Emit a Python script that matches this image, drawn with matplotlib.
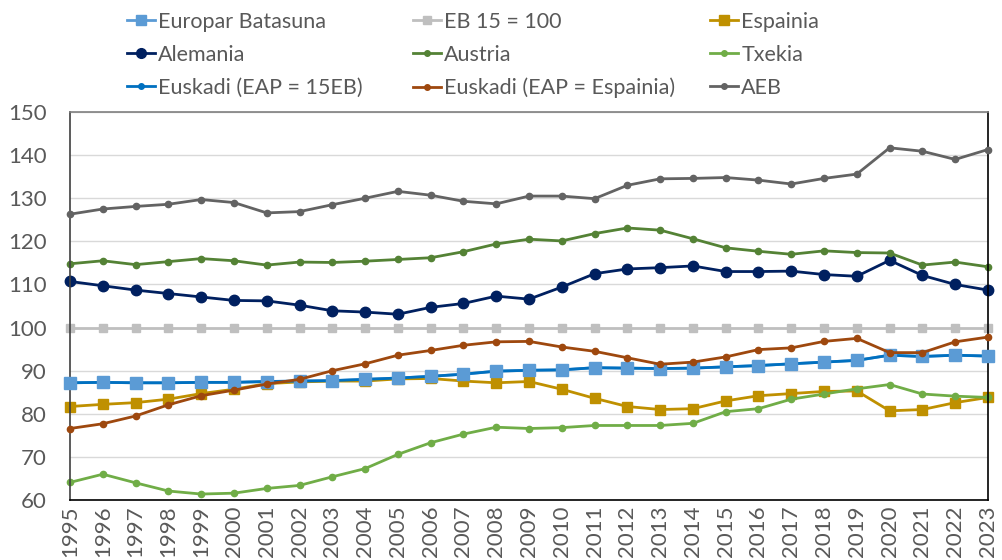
import matplotlib
matplotlib.use("Agg")
import matplotlib.pyplot as plt
from matplotlib.lines import Line2D

years = list(range(1995, 2024))

europar = [87.2, 87.3, 87.2, 87.2, 87.3, 87.3, 87.5, 87.6, 87.7, 88.0, 88.3, 88.7, 89.2, 89.9, 90.1,
           90.2, 90.7, 90.6, 90.5, 90.6, 90.9, 91.2, 91.6, 92.0, 92.4, 93.6, 93.3, 93.6, 93.4]
eb15 = [100] * len(years)
espainia = [81.7, 82.2, 82.6, 83.4, 84.7, 85.7, 87.0, 87.4, 87.6, 87.6, 88.1, 88.2, 87.6, 87.2, 87.5,
            85.7, 83.6, 81.7, 81.0, 81.2, 83.0, 84.2, 84.7, 85.2, 85.3, 80.7, 81.0, 82.6, 83.8]
alemania = [110.7, 109.7, 108.7, 107.9, 107.1, 106.3, 106.2, 105.2, 103.9, 103.6, 103.1, 104.7, 105.6,
            107.3, 106.6, 109.4, 112.5, 113.6, 113.9, 114.3, 113.0, 113.0, 113.1, 112.3, 111.9, 115.6,
            112.1, 110.0, 108.7]
austria = [114.8, 115.5, 114.6, 115.3, 116.0, 115.5, 114.5, 115.2, 115.1, 115.4, 115.8, 116.2, 117.6,
           119.4, 120.5, 120.1, 121.8, 123.1, 122.6, 120.6, 118.5, 117.7, 117.0, 117.8, 117.4, 117.3,
           114.5, 115.2, 114.1]
txekia = [64.1, 66.0, 64.0, 62.1, 61.4, 61.6, 62.7, 63.4, 65.4, 67.3, 70.6, 73.3, 75.3, 76.9, 76.6,
          76.8, 77.3, 77.3, 77.3, 77.8, 80.5, 81.2, 83.4, 84.6, 85.8, 86.8, 84.6, 84.1, 83.8]
euskadi_15eb = europar
euskadi_esp = [76.6, 77.7, 79.5, 82.1, 84.2, 85.5, 86.9, 88.0, 90.0, 91.6, 93.6, 94.7, 95.9, 96.7, 96.8,
               95.5, 94.5, 93.0, 91.5, 92.0, 93.2, 94.9, 95.3, 96.8, 97.5, 94.2, 94.2, 96.7, 97.8]
aeb = [126.3, 127.5, 128.1, 128.6, 129.7, 129.0, 126.6, 126.9, 128.5, 130.0, 131.6, 130.7, 129.3, 128.7,
       130.5, 130.5, 129.9, 133.0, 134.5, 134.6, 134.8, 134.2, 133.3, 134.6, 135.6, 141.7, 140.9, 139.0,
       141.3]

plt.rcParams['font.family'] = ['Lato', 'DejaVu Sans']
txt = '#595959'

fig = plt.figure(figsize=(10.02, 5.6), dpi=100)
ax = fig.add_axes([0.0699, 0.107, 0.9161, 0.693])

lw = 2.0
kw = dict(clip_on=False, linewidth=lw)
# Europar Batasuna line under the Euskadi (EAP = 15EB) line, squares on top
ax.plot(years, europar, color='#5B9BD5', zorder=2.0, **kw)
ax.plot(years, eb15, color='#BFBFBF', marker='s', markersize=6, zorder=2.1, **kw)
ax.plot(years, espainia, color='#BF9000', marker='s', markersize=7.5, zorder=2.2, **kw)
ax.plot(years, alemania, color='#002060', marker='o', markersize=7.5, zorder=2.3, **kw)
ax.plot(years, austria, color='#548235', marker='o', markersize=4.5, zorder=2.4, **kw)
ax.plot(years, txekia, color='#70AD47', marker='o', markersize=4.5, zorder=2.5, **kw)
ax.plot(years, euskadi_15eb, color='#0070C0', marker='o', markersize=4, zorder=2.6, **kw)
ax.plot(years, europar, color='#5B9BD5', linestyle='none', marker='s', markersize=8.5,
        zorder=2.65, clip_on=False)
ax.plot(years, euskadi_esp, color='#9E480E', marker='o', markersize=4.5, zorder=2.7, **kw)
ax.plot(years, aeb, color='#636363', marker='o', markersize=4.5, zorder=2.8, **kw)

ax.set_xlim(1995, 2023)
ax.set_ylim(60, 150)
ax.set_yticks(range(60, 151, 10))
ax.set_xticks(years)
ax.set_xticklabels([str(y) for y in years], rotation=90)
ax.tick_params(axis='both', length=0, labelsize=16, colors=txt)
ax.tick_params(axis='y', pad=17)
ax.tick_params(axis='x', pad=4)
ax.grid(axis='y', color='#D9D9D9', linewidth=1)
ax.set_axisbelow(True)
ax.spines['top'].set_color('#7F7F7F')
ax.spines['left'].set_color('#404040')
ax.spines['bottom'].set_color('black')
ax.spines['right'].set_color('black')
for s in ax.spines.values():
    s.set_linewidth(1.2)

def h(c, m, ms):
    return Line2D([], [], color=c, marker=m, markersize=ms, linewidth=lw)

cols = [
    ([h('#5B9BD5', 's', 7), h('#002060', 'o', 7), h('#0070C0', 'o', 4)],
     ['Europar Batasuna', 'Alemania', 'Euskadi (EAP = 15EB)'], 0.1267),
    ([h('#BFBFBF', 's', 6), h('#548235', 'o', 4), h('#9E480E', 'o', 4)],
     ['EB 15 = 100', 'Austria', 'Euskadi (EAP = Espainia)'], 0.412),
    ([h('#BF9000', 's', 6.5), h('#70AD47', 'o', 4), h('#636363', 'o', 4)],
     ['Espainia', 'Txekia', 'AEB'], 0.7086),
]
for hs, ls, x in cols:
    leg = fig.legend(hs, ls, loc='upper left', bbox_to_anchor=(x, 0.979), frameon=False,
                     fontsize=15.5, handlelength=1.3, handletextpad=0.15, labelspacing=0.6,
                     borderaxespad=0, borderpad=0)
    for t in leg.get_texts():
        t.set_color(txt)

fig.savefig('out.png', dpi=100)
